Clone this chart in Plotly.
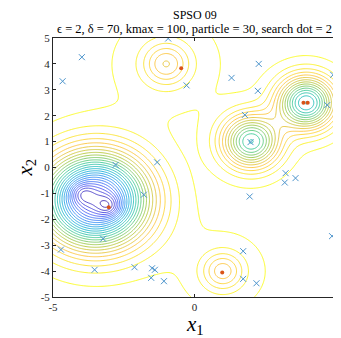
import numpy as np
import plotly.graph_objects as go

# ---- data ----
# particle positions (blue crosses)
particle_x = [-0.93, -0.28, -3.98, -4.66, -2.79, -1.32, -1.79, -3.23, -4.72, -3.53,
              -2.12, -1.50, -1.40, -1.53, -1.08, 2.27, 1.31, 4.90, 2.24, 1.78,
              4.69, 1.98, 3.22, 3.19, 3.57, 1.95, 4.86, 1.72, 1.72, 2.19]
particle_y = [4.98, 3.17, 4.26, 3.33, 0.10, 0.20, -1.05, -2.75, -3.17, -3.95,
              -3.85, -3.89, -3.95, -4.26, -4.39, 4.00, 3.46, 3.58, 2.96, 2.03,
              2.41, 0.98, -0.22, -0.58, -0.41, -1.12, -2.65, -3.23, -4.30, -4.47]
# search results (red dots)
best_x = [-0.47, -3.03, 3.85, 4.00, 0.98]
best_y = [3.83, -1.53, 2.50, 2.50, -4.05]

# objective landscape: gaussian wells (centre, depth, widths) and base level
well_cx = [-1.0, -1.0, 1.0, 1.0, 2.0, 3.95, -3.5, -4.0, -3.0]
well_cy = [4.0, 4.0, -4.0, -4.0, 1.0, 2.5, -1.25, -1.0, -1.5]
well_depth = [4.6, 1.0, 4.4, 0.8, 12.5, 14.5, 24.0, 2.8, 3.5]
well_sx = [0.55, 1.6, 0.5, 1.4, 0.7, 0.7, 1.25, 0.3, 0.3]
well_sy = [0.55, 1.6, 0.5, 1.4, 0.7, 0.7, 1.2, 0.3, 0.3]
base_level = -0.5

x_ticks = [-5, 0, 5]
y_ticks = [-5, -4, -3, -2, -1, 0, 1, 2, 3, 4, 5]

title_text = "SPSO 09"
subtitle_text = "\u03f5 = 2, \u03b4 = 70, kmax = 100, particle = 30, search dot = 2"

# ---- surface ----
gx = np.linspace(-5, 5, 301)
gy = np.linspace(-5, 5, 301)
X, Y = np.meshgrid(gx, gy)
Z = np.full_like(X, base_level)
for cx, cy, d, sx, sy in zip(well_cx, well_cy, well_depth, well_sx, well_sy):
    r2 = ((X - cx) / sx) ** 2 + ((Y - cy) / sy) ** 2
    Z -= d * np.exp(-0.5 * r2)

parula = [
    [0 / 7, "rgb(62,38,168)"], [1 / 7, "rgb(72,82,244)"], [2 / 7, "rgb(46,135,247)"],
    [3 / 7, "rgb(18,177,214)"], [4 / 7, "rgb(55,200,151)"], [5 / 7, "rgb(171,199,57)"],
    [6 / 7, "rgb(254,195,56)"], [7 / 7, "rgb(249,251,21)"],
]

font_family = "Liberation Serif"

fig = go.Figure()
fig.add_trace(go.Contour(
    x=gx, y=gy, z=Z,
    contours=dict(coloring="lines", start=-40, end=-1, size=1),
    line=dict(width=0.9),
    colorscale=parula, zmin=float(Z.min()), zmax=float(Z.max()),
    showscale=False, hoverinfo="skip",
))
fig.add_trace(go.Scatter(
    x=particle_x, y=particle_y, mode="markers",
    marker=dict(symbol="x-thin", size=6, line=dict(width=1, color="#4C94CC")),
    showlegend=False, hoverinfo="skip",
))
fig.add_trace(go.Scatter(
    x=best_x, y=best_y, mode="markers",
    marker=dict(symbol="circle", size=4, color="#D95319"),
    showlegend=False, hoverinfo="skip",
))

axis_common = dict(
    range=[-5, 5], showgrid=False, zeroline=False, automargin=False,
    showline=True, mirror="ticks", linecolor="#262626", linewidth=1,
    ticks="inside", ticklen=3, tickcolor="#262626",
    tickfont=dict(family=font_family, size=11, color="#262626"),
)
fig.update_xaxes(**axis_common, tickvals=x_ticks, ticktext=[str(v) for v in x_ticks])
fig.update_yaxes(**axis_common, tickvals=y_ticks, ticktext=[str(v) for v in y_ticks])

# the page body adds an 8px margin, so the margins below are shifted by 8px
fig.update_layout(
    width=341, height=338,
    margin=dict(l=45, r=13, t=30, b=49),
    paper_bgcolor="white", plot_bgcolor="white",
    showlegend=False,
    annotations=[
        dict(text=title_text, xref="paper", yref="paper", x=0.5, y=1.0,
             yanchor="middle", yshift=23, showarrow=False,
             font=dict(family=font_family, size=12, color="#000000")),
        dict(text=subtitle_text, xref="paper", yref="paper", x=0.5, y=1.0,
             yanchor="middle", yshift=9, showarrow=False,
             font=dict(family=font_family, size=12.5, color="#000000")),
        dict(text="<i>x</i><sub>1</sub>", xref="paper", yref="paper", x=0.5, y=0,
             yanchor="middle", yshift=-28, showarrow=False,
             font=dict(family=font_family, size=21, color="#000000")),
        dict(text="<i>x</i><sub>2</sub>", xref="paper", yref="paper", x=0, y=0.5,
             xanchor="center", yanchor="middle", xshift=-28, textangle=-90,
             showarrow=False,
             font=dict(family=font_family, size=21, color="#000000")),
    ],
)

fig.write_html("out.html")
